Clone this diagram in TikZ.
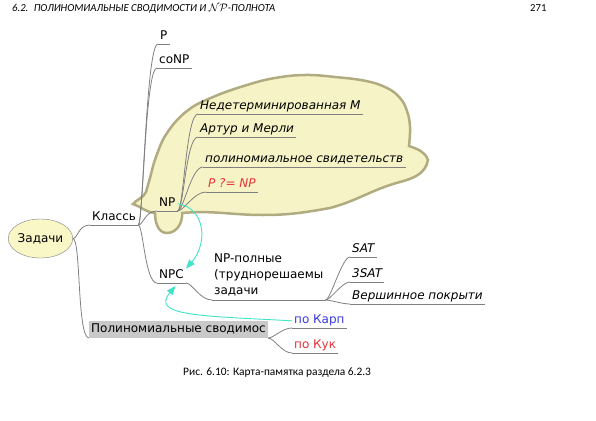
\documentclass[tikz,border=0pt]{standalone}
\usepackage{fontspec}
\usepackage{tikz}
\usetikzlibrary{arrows.meta}
\usetikzlibrary{shapes.geometric}
\newfontfamily\mapfont{DejaVu Sans}
\newfontfamily\capfont{Carlito}
\definecolor{mgray}{rgb}{0.5, 0.5, 0.5}
\definecolor{mred}{rgb}{0.9, 0.2, 0.22}
\definecolor{mblue}{rgb}{0.22, 0.22, 0.88}
\definecolor{mcyan}{rgb}{0.25, 0.9, 0.78}
\definecolor{mbox}{rgb}{0.79, 0.79, 0.79}
\definecolor{myellow}{rgb}{0.98, 0.97, 0.78}
\definecolor{mcloud}{rgb}{0.965, 0.955, 0.78}
\definecolor{mcloudline}{rgb}{0.69, 0.67, 0.5}
\tikzset{topic/.style = {font=\mapfont\fontsize{12}{14}\selectfont, inner xsep=2pt, inner ysep=1pt, text height=9pt, text depth=3pt, anchor=south west}}
\tikzset{leaf/.style = {topic, font=\mapfont\itshape\fontsize{12}{14}\selectfont}}
\tikzset{branch/.style = {draw=mgray, line width=0.8pt}}
\tikzset{link/.style = {draw=mcyan, line width=0.9pt, -{Triangle[length=9pt, width=7pt]}}}

\begin{document}
\begin{tikzpicture}[x=1pt, y=-1pt]
  \useasboundingbox (0, 0) rectangle (596, 420);

  \node [anchor=base west, inner sep=0, font=\capfont\itshape\fontsize{10.7}{12}\selectfont] (head) at (12, 12) {6.2.\enskip ПОЛИНОМИАЛЬНЫЕ СВОДИМОСТИ И $\mathcal{N}\mathcal{P}$-ПОЛНОТА};
  \node [anchor=base west, inner sep=0, font=\capfont\fontsize{10.7}{12}\selectfont] (page) at (530, 12) {271};

  % cloud round NP
  \draw [fill=mcloud, draw=mcloudline, line width=2.5pt]
    (133, 204) to [out=50, in=-115] (146, 192)
    -- plot [smooth, tension=0.7] coordinates {(146, 192) (150, 178) (156, 157) (167, 133) (187, 111)
      (213, 97) (247, 85) (275, 78) (305, 75) (335, 77) (366, 81) (387, 88) (400, 98) (407, 111)
      (410, 127) (409, 146)}
    to [out=-20, in=110] (428, 160)
    to [out=-100, in=15] (400, 182) to [out=-165, in=15] (330, 208)
    to [out=-170, in=0] (263, 215) to [out=180, in=5] (182, 213)
    to [out=-85, in=0] (167, 233) to [out=180, in=-90] (155, 213)
    to [out=175, in=-20] (133, 204) -- cycle;

  \node [ellipse, draw=mgray, fill=myellow, minimum width=54pt, minimum height=39pt, inner sep=0, font=\mapfont\fontsize{12}{14}\selectfont] (zad) at (40.5, 238.5) {Задачи};

  \node [topic] (klass) at (90, 225) {Классь};
  \node [topic] (p) at (158, 44) {P};
  \node [topic] (conp) at (157, 68) {coNP};
  \node [topic] (np) at (157, 211) {NP};
  \node [topic] (npc) at (157, 283) {NPC};

  \node [leaf] (ndm) at (198, 114) {Недетерминированная М};
  \node [leaf] (art) at (198, 137) {Артур и Мерли};
  \node [leaf] (poly) at (203, 167) {полиномиальное свидетельств};
  \node [leaf, text=mred] (pnp) at (206, 192) {P ?= NP};

  \node [anchor=south west, align=left, inner xsep=2pt, inner ysep=4pt, font=\mapfont\fontsize{12}{16}\selectfont] (nppol) at (212, 300) {NP-полные\\(труднорешаемы\\задачи};
  \node [leaf] (sat) at (350, 257) {SAT};
  \node [leaf] (tsat) at (350, 282) {3SAT};
  \node [leaf] (vp) at (350, 304) {Вершинное покрыти};

  \node [topic, fill=mbox, inner ysep=2.5pt] (svod) at (89, 338) {Полиномиальные сводимос};
  \node [topic, text=mblue] (karp) at (292, 328) {по Карп};
  \node [topic, text=mred] (kuk) at (292, 353) {по Кук};

  \draw [branch] (zad.east) .. controls +(5, 0) and +(-12, 0) .. (klass.south west);
  \draw [branch] (zad.east) .. controls +(8, 0) and +(-12, 0) .. (svod.south west);
  \foreach \c in {p, conp, np, npc} {
    \draw [branch] (klass.south east) .. controls +(5, 0) and +(-12, 0) .. (\c.south west);
  }
  \foreach \c in {ndm, art, poly, pnp} {
    \draw [branch] (np.south east) .. controls +(6, 0) and +(-12, 0) .. (\c.south west);
  }
  \draw [branch] (npc.south east) .. controls +(6, 0) and +(-12, 0) .. (nppol.south west);
  \foreach \c in {sat, tsat, vp} {
    \draw [branch] (nppol.south east) .. controls +(5, 0) and +(-8, 0) .. (\c.south west);
  }
  \foreach \c in {karp, kuk} {
    \draw [branch] (svod.south east) .. controls +(6, 0) and +(-10, 0) .. (\c.south west);
  }
  \foreach \n in {klass, p, conp, np, npc, ndm, art, poly, pnp, nppol, sat, tsat, vp, karp, kuk} {
    \draw [branch] (\n.south west) -- (\n.south east);
  }

  \draw [link] (np.east) .. controls +(28, 4) and +(22, -25) .. (npc.north east);
  \draw [link] (karp.west) .. controls +(-92, -5) and +(-25, 30) .. ([shift={(4, 3)}]npc.south);

  \node [anchor=base west, inner sep=0, font=\capfont\fontsize{11.4}{13}\selectfont] (cap) at (183, 375) {Рис. 6.10: Карта-памятка раздела 6.2.3};
\end{tikzpicture}
\end{document}
